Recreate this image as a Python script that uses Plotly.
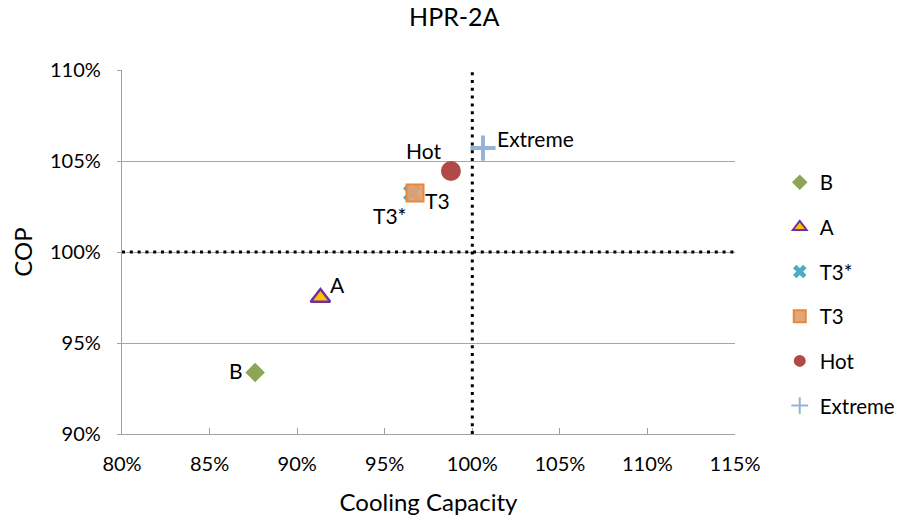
import plotly.graph_objects as go

names = ["B", "A", "T3*", "T3", "Hot", "Extreme"]
cooling_capacity = [0.876, 0.9133, 0.9656, 0.9673, 0.9878, 1.0061]
cop = [0.9338, 0.975, 1.0324, 1.0324, 1.0445, 1.0571]
x_ticks = [0.80, 0.85, 0.90, 0.95, 1.00, 1.05, 1.10, 1.15]
y_ticks = [0.90, 0.95, 1.00, 1.05, 1.10]
reference_x = 1.00
reference_y = 1.00

# label placement (anchor, pixel offsets) — styling only
label_layout = {
    "B": ("right", -10, 2),
    "A": ("left", 8, 13),
    "T3*": ("right", -3, -22),
    "T3": ("left", 8, -7),
    "Hot": ("right", -8, 21),
    "Extreme": ("left", 12, 10),
}

styles = {
    "B": dict(symbol="diamond", size=15, color="#8BA654", line=dict(width=0)),
    "A": dict(symbol="triangle-up", size=17, color="#FFC000", line=dict(width=2.5, color="#7030A0")),
    "T3*": dict(symbol="x", size=16, color="#4BACC6", line=dict(width=0)),
    "T3": dict(symbol="square", size=17, color="rgba(226,160,110,0.92)", line=dict(width=2, color="#E8873F")),
    "Hot": dict(symbol="circle", size=20, color="#B14A47", line=dict(width=0)),
    "Extreme": dict(symbol="cross-thin", size=18, color="#95B3D7", line=dict(width=4, color="#95B3D7")),
}

FONT = "Lato, Carlito, sans-serif"

fig = go.Figure()
for i, n in enumerate(names):
    fig.add_trace(go.Scatter(
        x=[cooling_capacity[i]], y=[cop[i]], name=n,
        mode="markers", marker=styles[n], legendgroup=n, cliponaxis=False,
    ))
    anchor, dx, dy = label_layout[n]
    fig.add_annotation(x=cooling_capacity[i], y=cop[i], text=n, showarrow=False,
                       xanchor=anchor, yanchor="middle", xshift=dx, yshift=dy,
                       font=dict(size=21, color="black", family=FONT))

fig.add_shape(type="line", xref="x", yref="paper", x0=reference_x, x1=reference_x, y0=0, y1=1,
              line=dict(color="black", width=3, dash="3px,4.8px"))
fig.add_shape(type="line", xref="paper", yref="y", x0=0, x1=1, y0=reference_y, y1=reference_y,
              line=dict(color="black", width=3, dash="3px,4.8px"))

fig.update_layout(
    width=898, height=512,
    paper_bgcolor="white", plot_bgcolor="white",
    margin=dict(l=114, r=171, t=62, b=86, autoexpand=False),
    font=dict(family=FONT, size=20, color="black"),
    title=dict(text="HPR-2A", x=0.497, xanchor="center", y=1.0, yanchor="top",
               pad=dict(t=0, b=0), font=dict(size=25, family=FONT, color="black")),
    showlegend=True,
    legend=dict(x=1.073, xanchor="left", y=0.746, yanchor="top", tracegroupgap=15,
                font=dict(size=20.5, family=FONT), bgcolor="rgba(0,0,0,0)", itemsizing="constant"),
    xaxis=dict(range=[0.80, 1.15], tickvals=x_ticks, tickformat=".0%", showgrid=False,
               showline=True, linecolor="#A0A0A0", linewidth=1.3, ticks="inside", ticklen=6,
               tickcolor="#A0A0A0", zeroline=False, automargin=False, ticklabelstandoff=12,
               title=dict(text="Cooling Capacity", font=dict(size=24), standoff=20)),
    yaxis=dict(range=[0.90, 1.10], tickvals=y_ticks, tickformat=".0%", showgrid=True,
               gridcolor="#A6A6A6", gridwidth=1.2, showline=True, linecolor="#A0A0A0", linewidth=1.3,
               ticks="outside", ticklen=4, tickcolor="#A0A0A0", zeroline=False, automargin=False,
               ticklabelstandoff=12,
               title=dict(text="COP", font=dict(size=24), standoff=14)),
)

fig.write_html("out.html")
